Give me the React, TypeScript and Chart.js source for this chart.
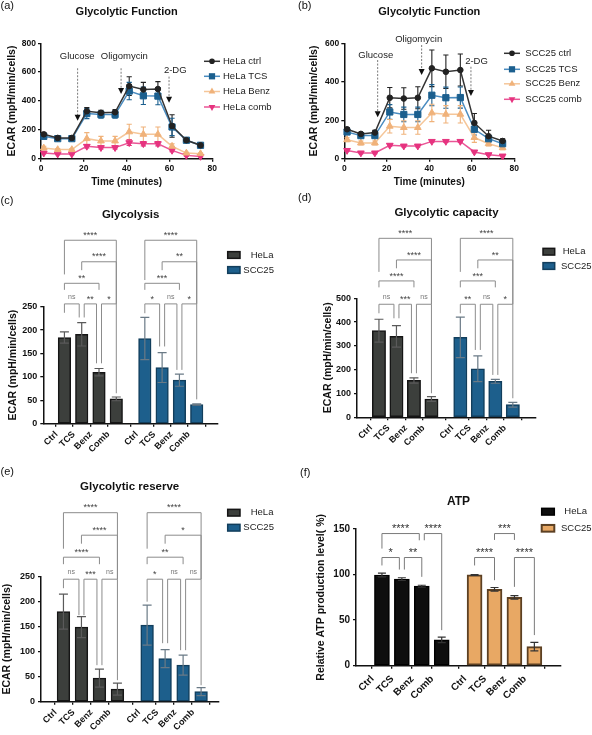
import { useEffect, useRef } from 'react';
import { Chart, registerables } from 'chart.js';

Chart.register(...registerables);

const FONT = 'Arial, "Liberation Sans", Helvetica, sans-serif';
const INK = '#111111';

// ---------------- (a)/(b) Seahorse time course ----------------
const timePoints = [1.3, 7.8, 14.4, 21.4, 28, 34.6, 41.2, 47.8, 54.6, 61.2, 67.9, 74.5];

const helaNames = ['HeLa ctrl', 'HeLa TCS', 'HeLa Benz', 'HeLa comb'];
const helaCtrl = [169, 144, 144, 329, 318, 322, 503, 480, 483, 227, 128, 93];
const helaCtrlErr = [10, 8, 8, 26, 18, 18, 65, 49, 51, 78, 12, 6];
const helaTcs = [155, 139, 139, 313, 306, 306, 469, 436, 434, 220, 128, 93];
const helaTcsErr = [8, 8, 8, 35, 25, 25, 60, 60, 60, 60, 12, 8];
const helaBenz = [74, 63, 63, 139, 123, 123, 186, 169, 169, 86, 39, 35];
const helaBenzErr = [12, 8, 8, 42, 32, 32, 53, 51, 51, 18, 6, 5];
const helaComb = [39, 32, 32, 86, 77, 77, 111, 104, 104, 58, 23, 16];
const helaCombErr = [5, 5, 5, 12, 10, 10, 20, 15, 15, 10, 5, 4];

const sccNames = ['SCC25 ctrl', 'SCC25 TCS', 'SCC25 Benz', 'SCC25 comb'];
const sccCtrl = [153, 129, 136, 317, 313, 317, 470, 452, 461, 186, 117, 92];
const sccCtrlErr = [9, 7, 12, 53, 56, 57, 95, 87, 83, 49, 31, 12];
const sccTcs = [139, 120, 120, 243, 230, 230, 330, 317, 318, 153, 104, 78];
const sccTcsErr = [8, 8, 8, 38, 38, 38, 55, 55, 55, 30, 18, 10];
const sccBenz = [99, 82, 82, 169, 162, 162, 238, 231, 231, 110, 78, 57];
const sccBenzErr = [10, 10, 10, 35, 35, 35, 45, 45, 45, 25, 12, 10];
const sccComb = [43, 30, 30, 70, 66, 66, 90, 90, 90, 35, 21, 14];
const sccCombErr = [5, 4, 4, 5, 5, 5, 5, 5, 5, 4, 4, 4];

const injectionNames = ['Glucose', 'Oligomycin', '2-DG'];
const injectionTimeA = [17.1, 37.4, 59.8];
const arrowTopA = [627, 627, 569];
const arrowTipA = [263, 449, 388];
const labelTimeA = [16.9, 38.9, 62.7];
const labelLevelA = [707, 707, 610];
const injectionTimeB = [15.7, 36.4, 59.6];
const arrowTopB = [513, 591, 478];
const arrowTipB = [215, 435, 326];
const labelTimeB = [14.8, 35.0, 62.2];
const labelLevelB = [539, 621, 504];

// ---------------- (c)-(f) bar panels ----------------
const barLabels = ['Ctrl', 'TCS', 'Benz', 'Comb'];
const groupNames = ['HeLa', 'SCC25'];
const barPositions = [1, 2, 3, 4, 5.65, 6.65, 7.65, 8.65];

type Bracket = [number, number, number, number, number, string];

const glycolysisHeLa = [184, 191, 110, 53];
const glycolysisHeLaErr = [12, 25, 8, 4];
const glycolysisSCC25 = [182, 120, 93, 41];
const glycolysisSCC25Err = [45, 32, 13, 1.5];
const glycolysisBrackets: Bracket[] = [
  [0, 3, 392, 319, 256, '****'],
  [1, 3, 346, 328, 256, '****'],
  [0, 2, 300, 286, 286, '**'],
  [0, 1, 256, 237, 227, 'ns'],
  [1, 2, 256, 227, 129, '**'],
  [2, 3, 256, 129, 65, '*'],
  [4, 7, 392, 307, 256, '****'],
  [5, 7, 346, 328, 256, '**'],
  [4, 6, 300, 286, 286, '***'],
  [4, 5, 256, 236, 165, '*'],
  [5, 6, 256, 165, 115, 'ns'],
  [6, 7, 256, 115, 52, '*'],
];

const capacityHeLa = [364, 340, 155, 77];
const capacityHeLaErr = [48, 45, 11, 10];
const capacitySCC25 = [336, 204, 151, 53];
const capacitySCC25Err = [85, 54, 8, 10];
const capacityBrackets: Bracket[] = [
  [0, 3, 752, 611, 475, '****'],
  [1, 3, 661, 626, 475, '****'],
  [0, 2, 573, 546, 546, '****'],
  [0, 1, 475, 437, 416, 'ns'],
  [1, 2, 475, 416, 185, '***'],
  [2, 3, 475, 185, 101, 'ns'],
  [4, 7, 752, 611, 475, '****'],
  [5, 7, 661, 626, 475, '**'],
  [4, 6, 573, 546, 546, '***'],
  [4, 5, 475, 437, 283, '**'],
  [5, 6, 475, 283, 178, 'ns'],
  [6, 7, 475, 178, 80, '*'],
];

const reserveHeLa = [180, 149, 47, 25];
const reserveHeLaErr = [35, 21, 18, 12];
const reserveSCC25 = [153, 86, 73, 20];
const reserveSCC25Err = [40, 18, 20, 8];
const reserveBrackets: Bracket[] = [
  [0, 3, 378, 306, 245, '****'],
  [1, 3, 333, 316, 245, '****'],
  [0, 2, 289, 275, 275, '****'],
  [0, 1, 245, 227, 173, 'ns'],
  [1, 2, 245, 173, 73, '***'],
  [2, 3, 245, 73, 43, 'ns'],
  [4, 7, 378, 306, 245, '****'],
  [5, 7, 333, 316, 245, '*'],
  [4, 6, 289, 275, 275, '**'],
  [4, 5, 245, 200, 117, '*'],
  [5, 6, 245, 117, 103, 'ns'],
  [6, 7, 245, 103, 33, 'ns'],
];

const atpHeLa = [99.5, 95, 87.3, 28.3];
const atpHeLaErr = [2, 1.5, 1, 3];
const atpSCC25 = [99.6, 83.8, 75, 20.9];
const atpSCC25Err = [0.5, 2, 2, 4.7];
const atpBrackets: Bracket[] = [
  [0, 2, 145, 128.5, 137.6, '****'],
  [2, 3, 145, 137.6, 39, '****'],
  [0, 1, 118.7, 110, 105.5, '*'],
  [1, 2, 118.7, 105.5, 97.5, '**'],
  [5, 6, 145, 138, 138, '***'],
  [4, 5, 118.7, 110, 93.8, '****'],
  [6, 7, 118.7, 86.5, 33.6, '****'],
];

// ---------------- styles ----------------
const lineColors = ['#333333', '#4a8cc0', '#f5c699', '#ea5596'];
const markerColors = ['#222222', '#1b5f8e', '#f0b27a', '#e6337f'];
const pointStyles = ['circle', 'rect', 'triangle', 'triangle'];
const pointRotations = [0, 0, 0, 180];
const pointRadii = [2.8, 4.4, 3.9, 3.9];

const tickFont = (size: number) => ({ family: FONT, size, weight: 'bold' as const });
const axisBorder = { display: true, color: INK, width: 1.5 };
const tickGrid = { display: true, drawOnChartArea: false, drawTicks: true, tickLength: 3, color: INK, lineWidth: 1.3 };

function drawMarker(ctx: CanvasRenderingContext2D, style: string, rot: number, x: number, y: number, r: number, color: string) {
  ctx.fillStyle = color;
  ctx.beginPath();
  if (style === 'circle') {
    ctx.arc(x, y, r, 0, Math.PI * 2);
  } else if (style === 'rect') {
    const s = r * Math.SQRT1_2;
    ctx.rect(x - s, y - s, 2 * s, 2 * s);
  } else {
    const sgn = rot ? -1 : 1;
    ctx.moveTo(x, y - sgn * r);
    ctx.lineTo(x + r * 0.866, y + sgn * r * 0.5);
    ctx.lineTo(x - r * 0.866, y + sgn * r * 0.5);
    ctx.closePath();
  }
  ctx.fill();
}

interface LineSpec {
  left: number; top: number; width: number; height: number;
  area: { left: number; top: number; right: number; bottom: number };
  yMax: number;
  names: string[];
  values: number[][];
  errors: number[][];
  yTitleCenterX: number;
  xTitleCenterY: number;
  titleY: number;
  legend: { lineX1: number; lineX2: number; markerX: number; textX: number; rows: number[] };
  inj: { at: number[]; top: number[]; tip: number[]; textAt: number[]; textLevel: number[] };
}

function lineDecor(p: LineSpec) {
  return {
    id: 'lineDecor',
    beforeDatasetsDraw(chart: any) {
      const ctx: CanvasRenderingContext2D = chart.ctx;
      const ys = chart.scales.y;
      ctx.save();
      p.values.forEach((vals, i) => {
        const meta = chart.getDatasetMeta(i);
        ctx.strokeStyle = markerColors[i];
        ctx.lineWidth = 1.1;
        meta.data.forEach((el: any, j: number) => {
          const x = el.x;
          const yt = ys.getPixelForValue(vals[j] + p.errors[i][j]);
          const yb = ys.getPixelForValue(vals[j] - p.errors[i][j]);
          ctx.beginPath();
          ctx.moveTo(x, yt); ctx.lineTo(x, yb);
          ctx.moveTo(x - 2.6, yt); ctx.lineTo(x + 2.6, yt);
          ctx.moveTo(x - 2.6, yb); ctx.lineTo(x + 2.6, yb);
          ctx.stroke();
        });
      });
      ctx.restore();
    },
    afterDraw(chart: any) {
      const ctx: CanvasRenderingContext2D = chart.ctx;
      const xs = chart.scales.x;
      const ys = chart.scales.y;
      const a = chart.chartArea;
      ctx.save();
      ctx.fillStyle = INK;
      ctx.font = `bold 11px ${FONT}`;
      ctx.textAlign = 'center';
      ctx.textBaseline = 'middle';
      ctx.fillText('Glycolytic Function', (a.left + a.right) / 2, p.titleY);
      injectionNames.forEach((name, k) => {
        const x = xs.getPixelForValue(p.inj.at[k]);
        const y1 = ys.getPixelForValue(p.inj.top[k]);
        const y2 = ys.getPixelForValue(p.inj.tip[k]);
        ctx.strokeStyle = '#7a7a7a';
        ctx.lineWidth = 1;
        ctx.setLineDash([2, 1.5]);
        ctx.beginPath();
        ctx.moveTo(x, y1); ctx.lineTo(x, y2 - 5);
        ctx.stroke();
        ctx.setLineDash([]);
        ctx.fillStyle = '#111';
        ctx.beginPath();
        ctx.moveTo(x - 3, y2 - 6); ctx.lineTo(x + 3, y2 - 6); ctx.lineTo(x, y2);
        ctx.closePath(); ctx.fill();
        ctx.fillStyle = '#222';
        ctx.font = `9.5px ${FONT}`;
        ctx.fillText(name, xs.getPixelForValue(p.inj.textAt[k]), ys.getPixelForValue(p.inj.textLevel[k]));
      });
      p.names.forEach((name, i) => {
        const y = p.legend.rows[i];
        ctx.strokeStyle = lineColors[i];
        ctx.lineWidth = 1.5;
        ctx.beginPath();
        ctx.moveTo(p.legend.lineX1, y); ctx.lineTo(p.legend.lineX2, y);
        ctx.stroke();
        drawMarker(ctx, pointStyles[i], pointRotations[i], p.legend.markerX, y, pointRadii[i], markerColors[i]);
        ctx.fillStyle = '#222';
        ctx.font = `9.5px ${FONT}`;
        ctx.textAlign = 'left';
        ctx.fillText(name, p.legend.textX, y);
      });
      ctx.restore();
    },
  };
}

function makeLineConfig(p: LineSpec): any {
  const yLH = 10.5 * 1.2;
  const xLH = 10 * 1.2;
  return {
    type: 'line',
    data: {
      datasets: p.names.map((n, i) => ({
        label: n,
        data: timePoints.map((t, j) => ({ x: t, y: p.values[i][j] })),
        borderColor: lineColors[i],
        backgroundColor: markerColors[i],
        pointBackgroundColor: markerColors[i],
        pointBorderColor: markerColors[i],
        pointBorderWidth: 1,
        pointStyle: pointStyles[i],
        pointRotation: pointRotations[i],
        pointRadius: pointRadii[i],
        borderWidth: 1.5,
        tension: 0,
        clip: false,
      })),
    },
    options: {
      responsive: false,
      animation: false,
      events: [],
      layout: { autoPadding: false, padding: { left: 0, top: p.area.top, right: p.width - p.area.right, bottom: 0 } },
      plugins: { legend: { display: false }, title: { display: false }, tooltip: { enabled: false } },
      scales: {
        x: {
          type: 'linear', min: 0, max: 80,
          ticks: { stepSize: 20, padding: 2, color: INK, font: tickFont(8.5) },
          grid: tickGrid, border: axisBorder,
          afterFit: (s: any) => { s.height = p.height - p.area.bottom; },
          title: { display: true, text: 'Time (minutes)', color: INK, font: tickFont(10), padding: { top: 0, bottom: p.height - p.xTitleCenterY - xLH / 2 } },
        },
        y: {
          type: 'linear', min: 0, max: p.yMax,
          ticks: { stepSize: 200, padding: 2, color: INK, font: tickFont(8.5) },
          grid: tickGrid, border: axisBorder,
          afterFit: (s: any) => { s.width = p.area.left; },
          title: { display: true, text: 'ECAR (mpH/min/cells)', color: INK, font: tickFont(10.5), padding: { top: p.yTitleCenterX - yLH / 2, bottom: 0 } },
        },
      },
    },
    plugins: [lineDecor(p)],
  };
}

interface BarSpec {
  left: number; top: number; width: number; height: number;
  area: { left: number; top: number; right: number; bottom: number };
  xMin: number; xMax: number; yMax: number; yStep: number;
  title: string; titleY: number; titleSize: number;
  yTitle: string; yTitleCenterX: number;
  barWidth: number; xTickSize: number; yTickSize: number; xTickPad: number; xTickShift: number;
  starSize: number; capW: number;
  hela: number[]; helaErr: number[]; scc: number[]; sccErr: number[];
  brackets: Bracket[];
  helaFill: string; helaBorder: string; helaBorderW: number;
  sccFill: string; sccBorder: string; sccBorderW: number;
  errColor: string[]; bracketColor: string; starColor: string;
  legend: { boxX: number; boxW: number; boxH: number; rows: number[]; textX: number[] };
}

function barDecor(p: BarSpec) {
  return {
    id: 'barDecor',
    afterDatasetsDraw(chart: any) {
      const ctx: CanvasRenderingContext2D = chart.ctx;
      const ys = chart.scales.y;
      ctx.save();
      [[p.hela, p.helaErr], [p.scc, p.sccErr]].forEach(([vals, errs], d) => {
        const meta = chart.getDatasetMeta(d);
        ctx.strokeStyle = p.errColor[d];
        ctx.lineWidth = 1.2;
        meta.data.forEach((el: any, j: number) => {
          const x = el.x;
          const yt = ys.getPixelForValue(vals[j] + errs[j]);
          const yb = ys.getPixelForValue(vals[j] - errs[j]);
          const c = p.capW / 2;
          ctx.beginPath();
          ctx.moveTo(x, yt); ctx.lineTo(x, yb);
          ctx.moveTo(x - c, yt); ctx.lineTo(x + c, yt);
          ctx.moveTo(x - c, yb); ctx.lineTo(x + c, yb);
          ctx.stroke();
        });
      });
      ctx.restore();
    },
    afterDraw(chart: any) {
      const ctx: CanvasRenderingContext2D = chart.ctx;
      const xs = chart.scales.x;
      const ys = chart.scales.y;
      const a = chart.chartArea;
      ctx.save();
      ctx.fillStyle = INK;
      ctx.font = `bold ${p.titleSize}px ${FONT}`;
      ctx.textAlign = 'center';
      ctx.textBaseline = 'middle';
      ctx.fillText(p.title, (a.left + a.right) / 2, p.titleY);

      const fills = [p.helaFill, p.sccFill];
      const borders = [p.helaBorder, p.sccBorder];
      const bws = [p.helaBorderW, p.sccBorderW];
      groupNames.forEach((name, k) => {
        const y = p.legend.rows[k];
        const L = p.legend;
        ctx.fillStyle = fills[k];
        ctx.fillRect(L.boxX, y - L.boxH / 2, L.boxW, L.boxH);
        ctx.strokeStyle = borders[k];
        ctx.lineWidth = bws[k];
        ctx.strokeRect(L.boxX, y - L.boxH / 2, L.boxW, L.boxH);
        ctx.fillStyle = '#222';
        ctx.font = `9.5px ${FONT}`;
        ctx.textAlign = 'left';
        ctx.fillText(name, L.textX[k], y);
      });

      ctx.lineWidth = 1;
      p.brackets.forEach((b) => {
        const [i1, i2, lvl, b1, b2, label] = b;
        const shareL = p.brackets.some((o) => o !== b && o[2] === lvl && o[1] === i1);
        const shareR = p.brackets.some((o) => o !== b && o[2] === lvl && o[0] === i2);
        const x1 = xs.getPixelForValue(barPositions[i1]) + (shareL ? 2.5 : 0);
        const x2 = xs.getPixelForValue(barPositions[i2]) - (shareR ? 2.5 : 0);
        const y = ys.getPixelForValue(lvl);
        ctx.strokeStyle = p.bracketColor;
        ctx.beginPath();
        ctx.moveTo(x1, ys.getPixelForValue(b1));
        ctx.lineTo(x1, y);
        ctx.lineTo(x2, y);
        ctx.lineTo(x2, ys.getPixelForValue(b2));
        ctx.stroke();
        ctx.textAlign = 'center';
        ctx.textBaseline = 'alphabetic';
        if (label === 'ns') {
          ctx.fillStyle = '#777';
          ctx.font = `7px ${FONT}`;
          ctx.fillText(label, (x1 + x2) / 2, y - 5.2);
        } else {
          ctx.fillStyle = p.starColor;
          ctx.font = `${p.starSize}px ${FONT}`;
          ctx.fillText(label, (x1 + x2) / 2, y - (7.5 - 0.57 * p.starSize));
        }
      });
      ctx.restore();
    },
  };
}

function makeBarConfig(p: BarSpec): any {
  const yLH = 10.5 * 1.2;
  return {
    type: 'bar',
    data: {
      datasets: [
        {
          label: groupNames[0],
          data: p.hela.map((v, i) => ({ x: barPositions[i], y: v })),
          backgroundColor: p.helaFill, borderColor: p.helaBorder, borderWidth: p.helaBorderW,
          borderSkipped: false, barThickness: p.barWidth, grouped: false,
        },
        {
          label: groupNames[1],
          data: p.scc.map((v, i) => ({ x: barPositions[i + 4], y: v })),
          backgroundColor: p.sccFill, borderColor: p.sccBorder, borderWidth: p.sccBorderW,
          borderSkipped: false, barThickness: p.barWidth, grouped: false,
        },
      ],
    },
    options: {
      responsive: false,
      animation: false,
      events: [],
      layout: { autoPadding: false, padding: { left: 0, top: p.area.top, right: p.width - p.area.right, bottom: 0 } },
      plugins: { legend: { display: false }, title: { display: false }, tooltip: { enabled: false } },
      scales: {
        x: {
          type: 'linear', min: p.xMin, max: p.xMax,
          afterBuildTicks: (s: any) => { s.ticks = barPositions.map((v) => ({ value: v })); },
          afterFit: (s: any) => { s.height = p.height - p.area.bottom; },
          ticks: {
            autoSkip: false, minRotation: 45, maxRotation: 45,
            padding: p.xTickPad, labelOffset: p.xTickShift, color: INK,
            font: tickFont(p.xTickSize),
            callback: (_v: any, i: number) => barLabels[i % 4],
          },
          grid: tickGrid, border: axisBorder,
        },
        y: {
          type: 'linear', min: 0, max: p.yMax,
          ticks: { stepSize: p.yStep, padding: 3, color: INK, font: tickFont(p.yTickSize) },
          afterFit: (s: any) => { s.width = p.area.left; },
          grid: tickGrid, border: axisBorder,
          title: { display: true, text: p.yTitle, color: INK, font: tickFont(10.5), padding: { top: p.yTitleCenterX - yLH / 2, bottom: 0 } },
        },
      },
    },
    plugins: [barDecor(p)],
  };
}

// ---------------- panel specs ----------------
const panelA: LineSpec = {
  left: 0, top: 0, width: 296, height: 198,
  area: { left: 41, top: 43.3, right: 212.3, bottom: 158.7 },
  yMax: 800, names: helaNames,
  values: [helaCtrl, helaTcs, helaBenz, helaComb],
  errors: [helaCtrlErr, helaTcsErr, helaBenzErr, helaCombErr],
  yTitleCenterX: 12.5, xTitleCenterY: 182, titleY: 12,
  legend: { lineX1: 204, lineX2: 220, markerX: 212, textX: 223, rows: [61.3, 76.3, 91.5, 107] },
  inj: { at: injectionTimeA, top: arrowTopA, tip: arrowTipA, textAt: labelTimeA, textLevel: labelLevelA },
};

const panelB: LineSpec = {
  left: 296, top: 0, width: 296, height: 198,
  area: { left: 48.3, top: 43.3, right: 218.3, bottom: 158.7 },
  yMax: 600, names: sccNames,
  values: [sccCtrl, sccTcs, sccBenz, sccComb],
  errors: [sccCtrlErr, sccTcsErr, sccBenzErr, sccCombErr],
  yTitleCenterX: 18, xTitleCenterY: 182, titleY: 12,
  legend: { lineX1: 208, lineX2: 224, markerX: 216, textX: 229.3, rows: [53.3, 69.3, 83.8, 99.3] },
  inj: { at: injectionTimeB, top: arrowTopB, tip: arrowTipB, textAt: labelTimeB, textLevel: labelLevelB },
};

const darkBars = {
  helaFill: '#3c3f3c', helaBorder: '#151515', helaBorderW: 1.5,
  sccFill: '#1d5f8c', sccBorder: '#123e5c', sccBorderW: 1.5,
  errColor: ['#5a5a5a', '#6a7a86'], bracketColor: '#8c8c8c', starColor: '#444',
};

const panelC: BarSpec = {
  left: 0, top: 198, width: 296, height: 267,
  area: { left: 43.3, top: 108.7, right: 218, bottom: 225.7 },
  xMin: 0.41, xMax: 9.25, yMax: 250, yStep: 50,
  title: 'Glycolysis', titleY: 17, titleSize: 11.5,
  yTitle: 'ECAR (mpH/min/cells)', yTitleCenterX: 13.3,
  barWidth: 12.5, xTickSize: 9, yTickSize: 9, xTickPad: 2.4, xTickShift: -8, starSize: 9, capW: 9,
  hela: glycolysisHeLa, helaErr: glycolysisHeLaErr, scc: glycolysisSCC25, sccErr: glycolysisSCC25Err,
  brackets: glycolysisBrackets, ...darkBars,
  legend: { boxX: 227.7, boxW: 12.3, boxH: 6.7, rows: [57, 72], textX: [250.7, 243.3] },
};

const panelD: BarSpec = {
  left: 296, top: 198, width: 296, height: 267,
  area: { left: 61, top: 100.3, right: 240, bottom: 219.3 },
  xMin: 0.385, xMax: 9.335, yMax: 500, yStep: 100,
  title: 'Glycolytic capacity', titleY: 15.3, titleSize: 11.5,
  yTitle: 'ECAR (mpH/min/cells)', yTitleCenterX: 31.7,
  barWidth: 13.3, xTickSize: 9, yTickSize: 9, xTickPad: 2.4, xTickShift: -8, starSize: 9, capW: 9,
  hela: capacityHeLa, helaErr: capacityHeLaErr, scc: capacitySCC25, sccErr: capacitySCC25Err,
  brackets: capacityBrackets, ...darkBars,
  legend: { boxX: 247, boxW: 11.7, boxH: 6.7, rows: [53.7, 68], textX: [266.7, 265] },
};

const panelE: BarSpec = {
  left: 0, top: 465, width: 296, height: 270,
  area: { left: 41, top: 111.7, right: 218.3, bottom: 236.7 },
  xMin: 0.368, xMax: 8.99, yMax: 250, yStep: 50,
  title: 'Glycolytic reserve', titleY: 21.7, titleSize: 11.5,
  yTitle: 'ECAR (mpH/min/cells)', yTitleCenterX: 7.5,
  barWidth: 12.7, xTickSize: 9, yTickSize: 9, xTickPad: 2.4, xTickShift: -8, starSize: 9, capW: 9,
  hela: reserveHeLa, helaErr: reserveHeLaErr, scc: reserveSCC25, sccErr: reserveSCC25Err,
  brackets: reserveBrackets, ...darkBars,
  legend: { boxX: 227.7, boxW: 12.3, boxH: 6.7, rows: [47.7, 62.7], textX: [250.7, 243.3] },
};

const panelF: BarSpec = {
  left: 296, top: 465, width: 296, height: 270,
  area: { left: 60, top: 64, right: 265, bottom: 200.7 },
  xMin: 0.341, xMax: 9.344, yMax: 150, yStep: 50,
  title: 'ATP', titleY: 36.7, titleSize: 12,
  yTitle: 'Relative ATP production level( %)', yTitleCenterX: 25,
  barWidth: 15, xTickSize: 10, yTickSize: 10, xTickPad: 4.5, xTickShift: -9.5, starSize: 11, capW: 8,
  hela: atpHeLa, helaErr: atpHeLaErr, scc: atpSCC25, sccErr: atpSCC25Err,
  brackets: atpBrackets,
  helaFill: '#0e0e0e', helaBorder: '#000000', helaBorderW: 1.5,
  sccFill: '#e8a864', sccBorder: '#5c4023', sccBorderW: 2,
  errColor: ['#333333', '#333333'], bracketColor: '#7a7a7a', starColor: '#333',
  legend: { boxX: 245.7, boxW: 12.6, boxH: 6.7, rows: [46.7, 63.3], textX: [268.3, 265] },
};

const tags: [string, number, number][] = [
  ['(a)', 0.5, 5], ['(b)', 298, 5], ['(c)', 0.5, 200.5],
  ['(d)', 298, 197.5], ['(e)', 0.5, 471], ['(f)', 300, 472.5],
];

function ChartCanvas({ box, build }: { box: { left: number; top: number; width: number; height: number }; build: () => any }) {
  const ref = useRef<HTMLCanvasElement>(null);
  useEffect(() => {
    const chart = new Chart(ref.current as HTMLCanvasElement, build());
    return () => chart.destroy();
  }, []);
  return (
    <canvas
      ref={ref}
      width={box.width}
      height={box.height}
      style={{ position: 'absolute', left: box.left, top: box.top, width: box.width, height: box.height }}
    />
  );
}

export default function App() {
  return (
    <div style={{ position: 'absolute', left: 0, top: 0, width: 592, height: 735, background: '#ffffff', overflow: 'hidden' }}>
      <ChartCanvas box={panelA} build={() => makeLineConfig(panelA)} />
      <ChartCanvas box={panelB} build={() => makeLineConfig(panelB)} />
      <ChartCanvas box={panelC} build={() => makeBarConfig(panelC)} />
      <ChartCanvas box={panelD} build={() => makeBarConfig(panelD)} />
      <ChartCanvas box={panelE} build={() => makeBarConfig(panelE)} />
      <ChartCanvas box={panelF} build={() => makeBarConfig(panelF)} />
      {tags.map(([t, x, cy]) => (
        <div
          key={t}
          style={{ position: 'absolute', left: x, top: cy - 6.5, fontFamily: FONT, fontSize: 11, lineHeight: '13px', color: '#111' }}
        >
          {t}
        </div>
      ))}
    </div>
  );
}
